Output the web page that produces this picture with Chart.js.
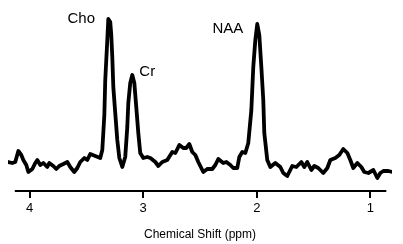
<!DOCTYPE html>
<html>
<head>
<meta charset="utf-8">
<script src="https://cdn.jsdelivr.net/npm/chart.js@4.4.1/dist/chart.umd.min.js"></script>
<style>
  html, body { margin: 0; padding: 0; background: #fff; }
</style>
</head>
<body>
<canvas id="spectrum" width="403" height="244"></canvas>
<script>
// chemical shift (ppm) of each sample
const ppm = [
  4.188, 4.152, 4.126, 4.099, 4.073, 4.055, 4.029, 4.011, 3.976, 3.950,
  3.932, 3.906, 3.879, 3.844, 3.827, 3.791, 3.765, 3.739, 3.703, 3.668,
  3.642, 3.607, 3.580, 3.554, 3.518, 3.492, 3.466, 3.422, 3.378, 3.360,
  3.342, 3.334, 3.316, 3.307, 3.290, 3.281, 3.272, 3.263, 3.246, 3.228,
  3.210, 3.184, 3.158, 3.140, 3.131, 3.114, 3.096, 3.078, 3.061, 3.043,
  3.026, 2.999, 2.964, 2.937, 2.893, 2.867, 2.832, 2.788, 2.744, 2.717,
  2.682, 2.647, 2.621, 2.594, 2.568, 2.541, 2.515, 2.471, 2.436, 2.392,
  2.365, 2.339, 2.295, 2.268, 2.233, 2.207, 2.172, 2.154, 2.128, 2.101,
  2.075, 2.048, 2.031, 2.013, 1.996, 1.978, 1.960, 1.943, 1.934, 1.908,
  1.881, 1.837, 1.793, 1.767, 1.732, 1.688, 1.652, 1.608, 1.582, 1.556,
  1.520, 1.494, 1.459, 1.415, 1.379, 1.353, 1.309, 1.274, 1.239, 1.203,
  1.177, 1.151, 1.115, 1.080, 1.054, 1.018, 0.974, 0.939, 0.913, 0.886,
  0.842, 0.807
];

// signal intensity (arbitrary units)
const signal = [
  29, 28, 29, 40, 36, 31, 26, 19, 22, 28,
  31, 26, 28, 24, 28, 25, 22, 25, 27, 29,
  24, 19, 23, 29, 33, 31, 37, 35, 33, 41,
  76, 111, 151, 172, 169, 156, 134, 104, 78, 51,
  33, 24, 34, 64, 88, 108, 116, 108, 84, 58,
  38, 33, 34, 33, 29, 25, 29, 31, 39, 38,
  46, 43, 43, 47, 39, 36, 29, 19, 22, 22,
  26, 32, 28, 29, 26, 23, 23, 34, 39, 38,
  48, 81, 124, 151, 167, 156, 124, 91, 58, 31,
  24, 28, 24, 18, 15, 25, 24, 29, 24, 29,
  21, 25, 23, 18, 23, 31, 33, 36, 42, 38,
  31, 23, 28, 24, 19, 18, 21, 13, 18, 20,
  20, 19
];

const tick_values = [4, 3, 2, 1];

const peak_names = ["Cho", "Cr", "NAA"];
const peak_label_ppm = [3.545, 2.964, 2.255];
const peak_label_level = [172, 119, 162];

// the drawn axis line is a bit shorter than the trace
const axis_from = 4.13;
const axis_to = 0.86;

const FONT = "'Liberation Sans', Arial, sans-serif";

const spectrum_extras = {
  id: "spectrum_extras",
  afterDraw(chart) {
    const ctx = chart.ctx;
    const x = chart.scales.x;
    const y = chart.scales.y;
    ctx.save();
    ctx.strokeStyle = "#000";
    ctx.lineWidth = 2;
    ctx.beginPath();
    ctx.moveTo(x.getPixelForValue(axis_from), chart.chartArea.bottom);
    ctx.lineTo(x.getPixelForValue(axis_to), chart.chartArea.bottom);
    ctx.stroke();

    ctx.font = "15px " + FONT;
    ctx.fillStyle = "#000";
    ctx.textAlign = "center";
    ctx.textBaseline = "middle";
    peak_names.forEach((name, i) => {
      ctx.fillText(name, x.getPixelForValue(peak_label_ppm[i]), y.getPixelForValue(peak_label_level[i]));
    });
    ctx.restore();
  }
};

new Chart(document.getElementById("spectrum"), {
  type: "line",
  data: {
    datasets: [{
      data: ppm.map((p, i) => ({ x: p, y: signal[i] })),
      borderColor: "#000",
      borderWidth: 3.8,
      borderJoinStyle: "round",
      borderCapStyle: "round",
      pointRadius: 0,
      tension: 0,
      fill: false
    }]
  },
  options: {
    responsive: false,
    animation: false,
    devicePixelRatio: 1,
    layout: { padding: { left: 8, right: 11, top: 0, bottom: 0 } },
    plugins: {
      legend: { display: false },
      tooltip: { enabled: false }
    },
    scales: {
      x: {
        type: "linear",
        reverse: true,
        min: 0.81,
        max: 4.19,
        afterBuildTicks: (scale) => {
          scale.ticks = tick_values.map(v => ({ value: v }));
        },
        afterFit: (scale) => { scale.height = 53; },
        border: { display: false },
        grid: {
          drawOnChartArea: false,
          drawTicks: true,
          tickLength: 7,
          color: "#000",
          lineWidth: 2
        },
        ticks: {
          color: "#000",
          font: { family: FONT, size: 13 },
          padding: 3,
          maxRotation: 0,
          autoSkip: false
        },
        title: {
          display: true,
          text: "Chemical Shift (ppm)",
          color: "#000",
          font: { family: FONT, size: 12 },
          padding: { top: 0, bottom: 2 }
        }
      },
      y: {
        display: false,
        min: 0,
        max: 191
      }
    }
  },
  plugins: [spectrum_extras]
});
</script>
</body>
</html>
